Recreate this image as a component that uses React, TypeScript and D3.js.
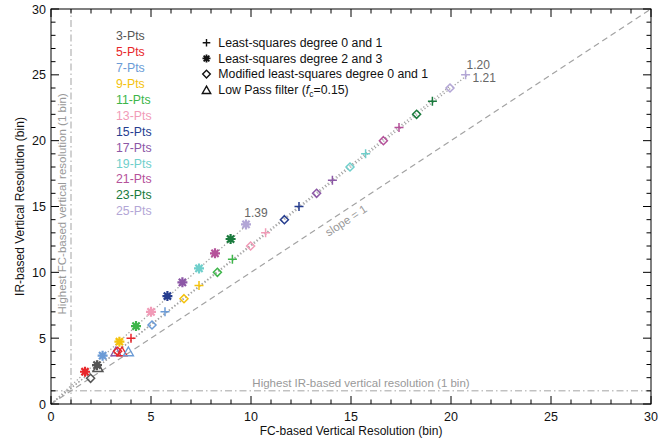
import React from 'react';
import * as d3 from 'd3';

const W = 669;
const H = 439;

// Series labels & colours (window size in points)
const ptsLabels = ['3-Pts', '5-Pts', '7-Pts', '9-Pts', '11-Pts', '13-Pts', '15-Pts', '17-Pts', '19-Pts', '21-Pts', '23-Pts', '25-Pts'];
const ptsColors = ['#555555', '#e8262a', '#6b9bd6', '#f4c20d', '#3db549', '#f19bb7', '#263d8f', '#8c57a6', '#6fcfcb', '#b5519a', '#197a3c', '#b3a6d6'];

// Least-squares degree 0 and 1 (plus)
const plusX = [null, 4.0, 5.7, 7.4, 9.07, 10.73, 12.4, 14.07, 15.73, 17.4, 19.07, 20.73];
const plusY = [null, 5.0, 7.0, 9.0, 11.0, 13.0, 15.0, 17.0, 19.0, 21.0, 23.0, 25.0];
// Least-squares degree 2 and 3 (asterisk)
const astX = [2.3, 1.7, 2.58, 3.42, 4.25, 5.0, 5.82, 6.57, 7.4, 8.2, 8.98, 9.75];
const astY = [2.95, 2.45, 3.67, 4.73, 5.92, 7.0, 8.2, 9.24, 10.3, 11.44, 12.53, 13.64];
// Modified least-squares degree 0 and 1 (diamond)
const diaX = [1.98, 3.33, 5.05, 6.65, 8.32, 9.98, 11.67, 13.28, 14.95, 16.62, 18.28, 19.95];
const diaY = [1.95, 4.0, 6.0, 8.0, 10.0, 12.0, 14.0, 16.0, 18.0, 20.0, 22.0, 24.0];
// Low pass filter (triangle)
const triIdx = [0, 7, 1, 2];
const triX = [2.35, 3.25, 3.55, 3.87];
const triY = [2.75, 3.95, 3.95, 3.95];

// Fit lines through origin
const fitSlopes = [1.39, 1.2, 1.21];
const fitXEnd = [9.8, 20.8, 20.0];
const fitLabels = ['1.39', '1.20', '1.21'];

const xTicks = [0, 5, 10, 15, 20, 25, 30];
const yTicks = [0, 5, 10, 15, 20, 25, 30];

const legendLabels = ['Least-squares degree 0 and 1', 'Least-squares degree 2 and 3', 'Modified least-squares degree 0 and 1', 'Low Pass filter ('];

const FONT = 'Arial, "Liberation Sans", Helvetica, sans-serif';

function plusPath(x: number, y: number, r: number) {
  return `M${x - r},${y}H${x + r}M${x},${y - r}V${y + r}`;
}
function astPath(x: number, y: number, r: number) {
  const d = r * 0.72;
  return `M${x - r},${y}H${x + r}M${x},${y - r}V${y + r}M${x - d},${y - d}L${x + d},${y + d}M${x - d},${y + d}L${x + d},${y - d}`;
}
function diaPath(x: number, y: number, r: number) {
  return `M${x},${y - r}L${x + r},${y}L${x},${y + r}L${x - r},${y}Z`;
}
function triPath(x: number, y: number, r: number) {
  const h = r * 1.0;
  return `M${x},${y - h}L${x + r},${y + h * 0.75}L${x - r},${y + h * 0.75}Z`;
}

export default function App() {
  const x = d3.scaleLinear().domain([0, 30]).range([51, 651]);
  const y = d3.scaleLinear().domain([0, 30]).range([404, 9]);
  const minor = d3.range(0, 31, 1);
  const gray = '#a3a3a3';

  const line = d3.line<[number, number]>().x((d) => x(d[0])).y((d) => y(d[1]));

  return (
    <svg width={W} height={H} style={{ position: 'absolute', left: 0, top: 0, background: '#fff' }} fontFamily={FONT}>
      {/* reference lines */}
      <path d={line([[0, 0], [30, 30]]) || ''} stroke={gray} strokeWidth={1.2} strokeDasharray="6,4" fill="none" />
      <path d={line([[1, 0], [1, 30]]) || ''} stroke={gray} strokeWidth={1} strokeDasharray="7,3,1.5,3" fill="none" />
      <path d={line([[0, 1], [30, 1]]) || ''} stroke={gray} strokeWidth={1} strokeDasharray="7,3,1.5,3" fill="none" />
      {fitSlopes.map((s, i) => (
        <path key={'fit' + i} d={line([[0, 0], [fitXEnd[i], fitXEnd[i] * s]]) || ''} stroke={gray} strokeWidth={1.3} strokeDasharray="1.3,2.2" fill="none" />
      ))}

      {/* annotations */}
      <text x={0} y={0} fontSize={11.5} fill="#999" textAnchor="middle" transform={`translate(${x(1) - 5},${y(15.2)}) rotate(-90)`}>Highest FC-based vertical resolution (1 bin)</text>
      <text x={x(15.5)} y={y(1) - 4} fontSize={11.5} fill="#999" textAnchor="middle">Highest IR-based vertical resolution (1 bin)</text>
      <text x={0} y={0} fontSize={11.5} fill="#999" textAnchor="middle" transform={`translate(${x(14.5)},${y(14.5)}) rotate(-33.4) translate(0,13)`}>slope = 1</text>

      {/* fit labels */}
      <text x={x(fitXEnd[0]) + 9} y={y(fitXEnd[0] * fitSlopes[0]) - 8} fontSize={12} fill="#666" textAnchor="middle">{fitLabels[0]}</text>
      <text x={x(20.73) + 1} y={y(25) - 6} fontSize={12} fill="#666">{fitLabels[1]}</text>
      <text x={x(20.73) + 7} y={y(25) + 7} fontSize={12} fill="#666">{fitLabels[2]}</text>

      {/* markers */}
      {triX.map((v, i) => (
        <path key={'t' + i} d={triPath(x(v), y(triY[i]), 5)} fill="none" stroke={ptsColors[triIdx[i]]} strokeWidth={1.4} />
      ))}
      {diaX.map((v, i) => (
        <path key={'d' + i} d={diaPath(x(v), y(diaY[i]), 4)} fill="none" stroke={ptsColors[i]} strokeWidth={1.5} />
      ))}
      {plusX.map((v, i) => v == null ? null : (
        <path key={'p' + i} d={plusPath(x(v), y(plusY[i] as number), 4.5)} fill="none" stroke={ptsColors[i]} strokeWidth={1.5} />
      ))}
      {astX.map((v, i) => (
        <path key={'a' + i} d={astPath(x(v), y(astY[i]), 5)} fill="none" stroke={ptsColors[i]} strokeWidth={2.2} />
      ))}

      {/* frame & ticks */}
      <rect x={x(0)} y={y(30)} width={x(30) - x(0)} height={y(0) - y(30)} fill="none" stroke="#000" strokeWidth={1} />
      {minor.map((t) => {
        const len = t % 5 === 0 ? 8 : 4.5;
        return (
          <g key={'tk' + t} stroke="#000" strokeWidth={1}>
            <line x1={x(t)} x2={x(t)} y1={y(0)} y2={y(0) - len} />
            <line x1={x(t)} x2={x(t)} y1={y(30)} y2={y(30) + len} />
            <line x1={x(0)} x2={x(0) + len} y1={y(t)} y2={y(t)} />
            <line x1={x(30)} x2={x(30) - len} y1={y(t)} y2={y(t)} />
          </g>
        );
      })}
      {xTicks.map((t) => (
        <text key={'xl' + t} x={x(t)} y={y(0) + 17} fontSize={12.5} textAnchor="middle" fill="#111">{t}</text>
      ))}
      {yTicks.map((t) => (
        <text key={'yl' + t} x={x(0) - 5} y={y(t) + 4.5} fontSize={12.5} textAnchor="end" fill="#111">{t}</text>
      ))}
      <text x={(x(0) + x(30)) / 2} y={y(0) + 31} fontSize={12} textAnchor="middle" fill="#111">FC-based Vertical Resolution (bin)</text>
      <text x={0} y={0} fontSize={12} textAnchor="middle" fill="#111" transform={`translate(${x(0) - 27},${y(15)}) rotate(-90)`}>IR-based Vertical Resolution (bin)</text>

      {/* Pts legend */}
      {ptsLabels.map((l, i) => (
        <text key={'pl' + i} x={116} y={36 + i * 15.9 + 4.3} fontSize={12.3} fill={ptsColors[i]}>{l}</text>
      ))}

      {/* marker legend */}
      {legendLabels.map((l, i) => {
        const cy = 42.7 + i * 15.7;
        const cx = 206.5;
        const d = i === 0 ? plusPath(cx, cy, 3.8) : i === 1 ? astPath(cx, cy, 4) : i === 2 ? diaPath(cx, cy, 3.8) : triPath(cx, cy + 0.5, 4.2);
        return (
          <g key={'ml' + i}>
            <path d={d} fill="none" stroke="#111" strokeWidth={i === 1 ? 1.8 : 1.4} />
            <text x={218.3} y={cy + 4.3} fontSize={12.3} fill="#111">
              {l}
              {i === 3 ? (
                <>
                  <tspan fontStyle="italic">f</tspan>
                  <tspan fontSize={8.5} dy={3}>c</tspan>
                  <tspan dy={-3}>=0.15)</tspan>
                </>
              ) : null}
            </text>
          </g>
        );
      })}
    </svg>
  );
}
